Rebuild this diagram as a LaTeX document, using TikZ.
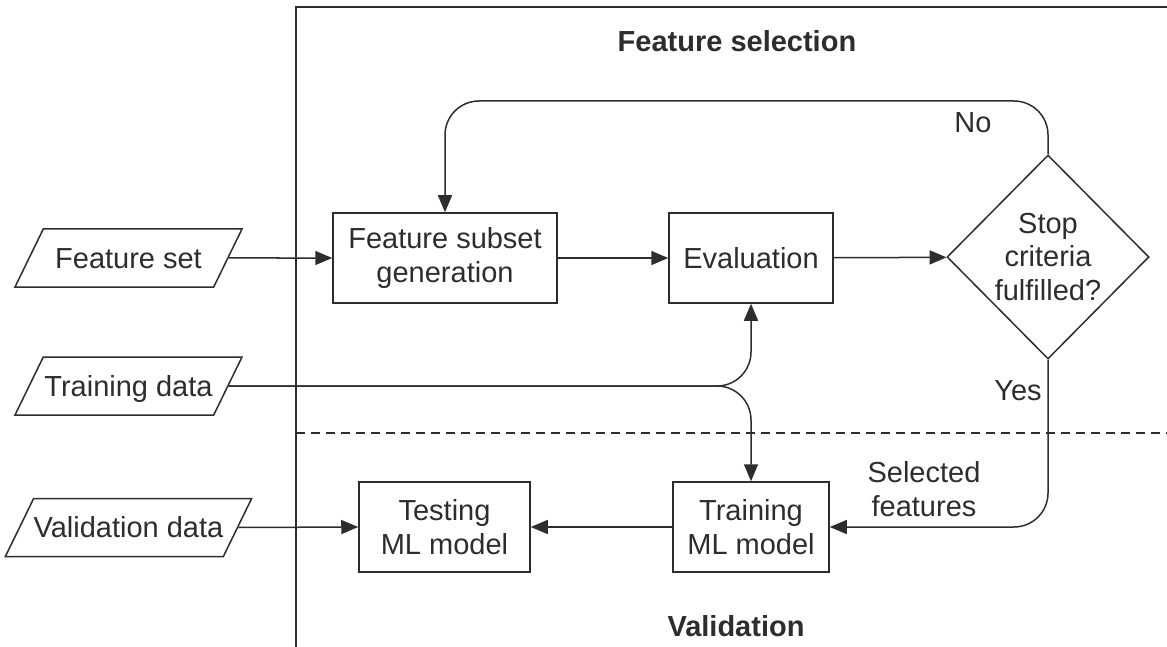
\documentclass[tikz,border=0pt]{standalone}
\usepackage{fontspec}
\setmainfont{Liberation Sans}
\usetikzlibrary{shapes.geometric}
\usetikzlibrary{arrows.meta}

\definecolor{ink}{RGB}{45,45,45}

\begin{document}
\begin{tikzpicture}[x=1pt,y=-1pt,
  every node/.style={text=ink, font=\fontsize{29}{33.5}\selectfont},
  procbox/.style={draw=ink, line width=1.5pt, minimum height=90pt, inner sep=0pt, align=center},
  databox/.style={trapezium, trapezium left angle=64, trapezium right angle=116, trapezium stretches body,
    draw=ink, line width=1.5pt, text height=20pt, text depth=0pt, inner xsep=0pt, inner ysep=19pt},
  decision/.style={diamond, draw=ink, line width=1.5pt, minimum width=202pt, minimum height=204pt, inner sep=0pt},
  flow/.style={draw=ink, line width=1.5pt, -{Triangle[length=17pt,width=14pt]}},
  title/.style={font=\bfseries\fontsize{29}{33.5}\selectfont}]
  \pgfmathsetmacro{\CornerR}{34}
  \pgfmathsetmacro{\LoopY}{101}

  \useasboundingbox (0,0) rectangle (1167,647);

  % frame and split
  \draw[draw=ink, line width=2pt] (296,647) -- (296,7) -- (1167,7);
  \draw[draw=ink, line width=1.3pt, dash pattern=on 9pt off 6pt] (296,433) -- (1167,433);
  \node[title] (selhead) at (737,41) {Feature selection};
  \node[title] (valhead) at (736,626) {Validation};

  % inputs
  \node[databox, minimum width=227pt] (fset) at (128.5,258) {Feature set};
  \node[databox, minimum width=227pt] (tdata) at (128.5,386) {Training data};
  \node[databox, minimum width=243pt] (vdata) at (128.5,527.5) {Validation data};

  % steps
  \node[procbox, minimum width=224pt] (fsg) at (445,258) {Feature subset\\generation};
  \node[procbox, minimum width=164pt] (eval) at (751,258) {Evaluation};
  \node[decision] (stop) at (1048,257) {};
  \node[align=center] (stoptxt) at (stop.center) {Stop\\criteria\\fulfilled?};
  \node[procbox, minimum width=171pt] (test) at (444.5,527) {Testing\\ML model};
  \node[procbox, minimum width=156pt] (train) at (751,527) {Training\\ML model};

  \draw[flow] (fset.east) -- (fsg.west);
  \draw[flow] (fsg) -- (eval);
  \draw[flow] (eval) -- (stop);
  \draw[flow, rounded corners=\CornerR pt] (stop.north) -- (1048,\LoopY) -| (fsg.north);
  \draw[flow, rounded corners=\CornerR pt] (stop.south) |- (train.east);
  \draw[flow, rounded corners=\CornerR pt] (tdata.east) -| (eval.south);
  \draw[flow, rounded corners=\CornerR pt] (tdata.east) -| (train.north);
  \draw[flow] (train) -- (test);
  \draw[flow] (vdata.east) -- (test.west);

  \node (nolbl) at (973,123) {No};
  \node (yeslbl) at (1018,391) {Yes};
  \node[align=center] (sellbl) at (924,489) {Selected\\features};
\end{tikzpicture}
\end{document}
